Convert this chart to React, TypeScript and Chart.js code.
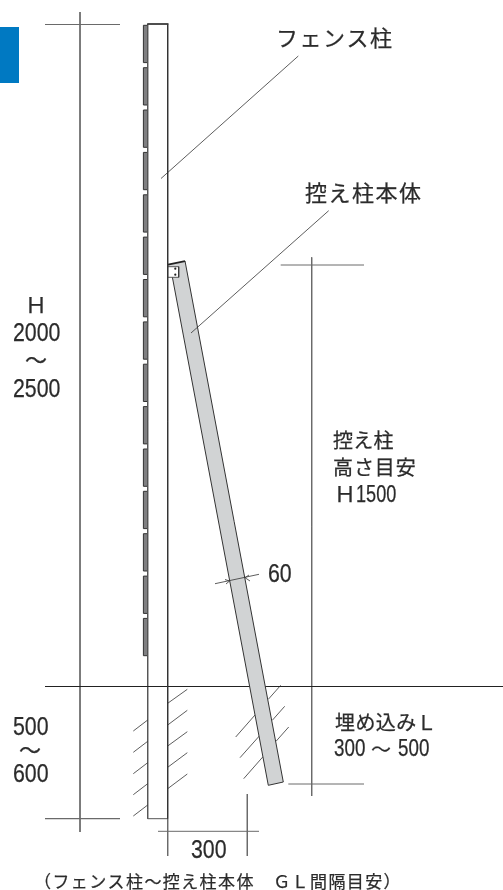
import React, { useEffect, useRef } from "react";
import { Chart, registerables } from "chart.js";

Chart.register(...registerables);

type P = [number, number];

const blueTab: P[] = [[0, 27], [19, 27], [19, 83], [0, 83]];
const slatStarts = [25.3, 67.7, 110, 152.4, 194.8, 237.1, 279.5, 321.9, 364.2, 406.6, 449, 491.3, 533.7, 576.1, 618.4];
const slatLength = 37.3;
const postOutline: P[] = [[147.7, 24.5], [147.7, 818.7], [167.7, 818.7]];
const postRight: P[] = [[167.7, 24.5], [167.7, 818.7]];
const postTop: P[] = [[147.2, 24], [168.5, 24]];
const braceBody: P[] = [[168, 264.5], [185, 261], [283.3, 782], [268.3, 785.3], [172.4, 277.3], [168, 277.3]];
const braceLeft: P[] = [[172.4, 277.3], [268.3, 785.3], [283.3, 782], [185, 261]];
const braceTop: P[] = [[168, 264.7], [185, 261.2]];
const bracket: P[] = [[167.7, 266.7], [178.7, 266.7], [178.7, 277.3], [167.7, 277.3]];
const bolts: P[] = [[175.3, 268.7], [175.3, 274.7]];

const groundLine: P[] = [[45, 686.5], [503, 686.5]];
const dimLines: P[][] = [
  [[80, 12], [80, 832]],
  [[45, 24.5], [120, 24.5]],
  [[45, 818.7], [120, 818.7]],
  [[311.7, 257.3], [311.7, 796]],
  [[280.7, 265], [364, 265]],
  [[288.3, 784], [364, 784]],
  [[158, 831.3], [259, 831.3]],
  [[167.7, 818.7], [167.7, 856]],
  [[247.3, 794], [247.3, 856]],
];
const leaderLines: P[][] = [
  [[161, 178.5], [298.3, 56]],
  [[191, 333], [328.7, 210.7]],
  [[215, 583.7], [259, 574.3]],
  [[225, 579.5], [229.5, 581], [226, 584]],
  [[249, 575], [245, 577.7], [250, 581]],
];
const hatchLines: P[][] = [
  [[167.7, 703.3], [187.3, 689.3]],
  [[167.7, 725], [187.3, 710.3]],
  [[167.7, 746], [187.3, 731.7]],
  [[167.7, 767.3], [187.3, 752.7]],
  [[167.7, 788.7], [187.3, 774]],
  [[133.3, 731], [147.7, 720]],
  [[133.3, 752.3], [147.7, 741.3]],
  [[133.3, 773.7], [147.7, 762.7]],
  [[133.3, 794.7], [147.7, 783.7]],
  [[133.3, 816], [147.7, 805]],
  [[235.7, 737], [255, 715]],
  [[268.3, 699.3], [280.7, 685.3]],
  [[240, 757.7], [259.3, 736]],
  [[272.3, 720.3], [284.7, 706.3]],
  [[243.7, 778.7], [263, 756.7]],
  [[276, 741.3], [288.7, 727]],
];

const labelTexts = [
  "フェンス柱", "控え柱本体", "Ｈ", "2000", "～", "2500",
  "控え柱", "高さ目安", "Ｈ", "1500", "60", "埋め込みＬ", "300", "～", "500",
  "500", "～", "600", "300", "（フェンス柱～控え柱本体　ＧＬ間隔目安）",
];
const labelAnchors: P[] = [
  [276, 40], [305, 195], [25, 307], [13, 333.5], [25, 362], [13, 389.5],
  [333, 442], [333, 469], [334, 496], [356, 495.5], [268, 574.5], [335, 724], [334, 750], [371, 751], [398, 750],
  [13, 728], [19, 752], [13, 774.5], [191, 850.5], [34, 883],
];
const labelSizes = [22, 22, 22, 26, 22, 26, 20, 20, 22, 23.5, 26, 20, 23.5, 20, 23.5, 26, 22, 26, 26, 17];
const labelSpacing = [1.5, 1.5, 0, 0, 0, 0, 0.3, 0.9, 0, 0, 0, 0.4, 0, 0, 0, 0, 0, 0, 0, 1.4];
const labelCondense = [1, 1, 1, 0.82, 1, 0.82, 1, 1, 1, 0.77, 0.82, 1, 0.8, 1, 0.8, 0.82, 1, 0.82, 0.82, 1];

const FONT_STACK = '"Liberation Sans", "Noto Sans CJK JP"';

const toPts = (a: P[]) => a.map(([x, y]) => ({ x, y }));

const textPlugin = {
  id: "labels",
  afterDatasetsDraw(chart: any) {
    const { ctx, scales } = chart;
    ctx.save();
    ctx.fillStyle = "#2b2b2b";
    ctx.strokeStyle = "#2b2b2b";
    ctx.lineWidth = 0.25;
    ctx.textBaseline = "middle";
    ctx.textAlign = "left";
    labelTexts.forEach((t, i) => {
      ctx.save();
      ctx.font = `400 ${labelSizes[i]}px ${FONT_STACK}`;
      ctx.letterSpacing = `${labelSpacing[i]}px`;
      ctx.translate(scales.x.getPixelForValue(labelAnchors[i][0]), scales.y.getPixelForValue(labelAnchors[i][1]));
      ctx.scale(labelCondense[i], 1);
      ctx.fillText(t, 0, 0);
      ctx.strokeText(t, 0, 0);
      ctx.restore();
    });
    ctx.restore();
  },
};

export default function App() {
  const ref = useRef<HTMLCanvasElement>(null);
  useEffect(() => {
    const line = (pts: P[], color: string, width: number) => ({
      data: toPts(pts), showLine: true, borderColor: color, borderWidth: width,
      pointRadius: 0, fill: false, tension: 0, borderCapStyle: "butt",
    });
    const poly = (pts: P[], fillColor: string, stroke: string, width: number) => ({
      data: toPts([...pts, pts[0]]), showLine: true, borderColor: stroke, borderWidth: width,
      backgroundColor: fillColor, pointRadius: 0, fill: "shape", tension: 0,
    });
    const painter: any[] = [
      poly(blueTab, "#0079c2", "#0079c2", 0),
      ...slatStarts.map((s) =>
        poly([[143.4, s], [147.5, s], [147.5, s + slatLength], [143.4, s + slatLength]], "#7f7f81", "#333333", 1)),
      line(postOutline, "#555555", 1),
      line(postTop, "#222222", 1.6),
      ...dimLines.map((d, i) => line(d, "#6a6a6a", i === 1 || i === 2 ? 1.2 : 1)),
      ...hatchLines.map((h) => line(h, "#333333", 0.8)),
      line(groundLine, "#222222", 1),
      poly(braceBody, "#d1d3d4", "#d1d3d4", 0),
      line(braceLeft, "#333333", 1),
      line(braceTop, "#222222", 1.8),
      poly(bracket, "#ffffff", "#333333", 0.8),
      line(postRight, "#333333", 1),
      ...leaderLines.map((l) => line(l, "#333333", 0.8)),
      { data: toPts(bolts), showLine: false, pointRadius: 1.1, pointBackgroundColor: "#222222", pointBorderWidth: 0 },
    ];
    painter.forEach((d, i) => { d.order = painter.length - i; });
    const chart = new Chart(ref.current!, {
      type: "scatter",
      data: { datasets: painter },
      plugins: [textPlugin],
      options: {
        animation: false,
        responsive: false,
        layout: { padding: 0, autoPadding: false },
        plugins: { legend: { display: false }, tooltip: { enabled: false } },
        scales: {
          x: { type: "linear", min: 0, max: 503, display: false },
          y: { type: "linear", min: 0, max: 890, reverse: true, display: false },
        },
      },
    } as any);
    return () => chart.destroy();
  }, []);
  return (
    <div style={{ position: "fixed", left: 0, top: 0, width: 503, height: 890, background: "#fff" }}>
      <canvas ref={ref} width={503} height={890} style={{ display: "block", width: 503, height: 890 }} />
    </div>
  );
}
